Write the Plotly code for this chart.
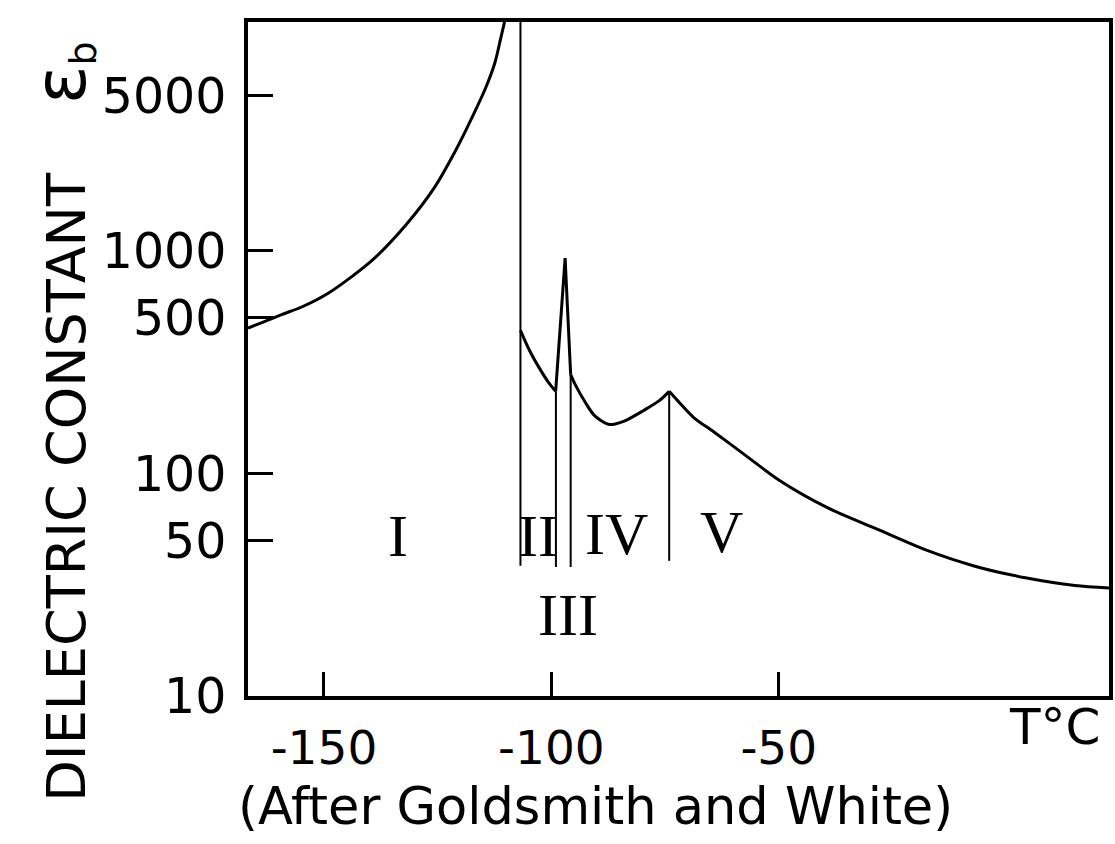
import math
import plotly.graph_objects as go

# ---------------- data ----------------
# Phase I branch (rises to an off-scale peak at the I/II transition)
phaseI_T = [-166.7, -159.3, -154.9, -148.9, -139.3, -131.9, -125.8, -121.2,
            -117.3, -114.3, -112.4, -111.2, -110.3]
phaseI_eps = [450, 518, 560, 649, 912, 1315, 1915, 2791,
              4036, 5500, 7030, 8910, 10700]

# Phase II branch
phaseII_T = [-106.8, -104.8, -102.7, -100.6, -99.06]
phaseII_eps = [440, 357, 299, 256, 234]

# Narrow spike at the II/III transition
spike_T = [-99.06, -96.98, -95.76]
spike_eps = [234, 929, 278]

# Phase IV branch
phaseIV_T = [-95.76, -94.73, -92.62, -90.5, -87.27, -83.97, -79.53, -76.2, -74.1]
phaseIV_eps = [278, 250, 210, 182, 166, 172, 193, 213, 234]

# Phase V branch
phaseV_T = [-74.1, -72.2, -68.64, -64.33, -57.17, -50.0, -39.2, -28.37,
            -17.54, -6.7, 4.2, 15.1, 22.6]
phaseV_eps = [234, 212, 178, 154, 120, 93.5, 70.0, 56.2,
              45.2, 38.2, 34.0, 31.4, 30.6]

# Phase boundaries (vertical lines)
boundary_T = [-106.8, -99.0, -95.76, -74.1]
boundary_top = [10700, 234, 278, 234]
boundary_bottom = [38.5, 38.0, 38.0, 40.5]

# Phase labels
phase_labels = ["I", "II", "III", "IV", "V"]
phase_label_T = [-133.8, -103.0, -96.3, -85.65, -62.7]
phase_label_eps = [52.5, 52.5, 23.1, 53.2, 54.6]

# Axes
x_tickvals = [-150, -100, -50]
x_ticktext = ["-150", "-100", "-50"]
y_tickvals = [10, 50, 100, 500, 1000, 5000]
y_ticktext = ["10", "50", "100", "500", "1000", "5000"]
x_range = [-166.7, 22.6]
y_range_eps = [10, 10690]

# ---------------- figure ----------------
W, H = 1115, 844
ML, MR, MT, MB = 248, 2, 22, 148
PW, PH = W - ML - MR, H - MT - MB

def px_to_paper(px, py):
    return (px - ML) / PW, (H - MB - py) / PH

fig = go.Figure()

def add_curve(xs, ys, shape):
    fig.add_trace(go.Scatter(x=xs, y=ys, mode="lines",
                             line=dict(color="black", width=3, shape=shape,
                                       smoothing=0.8 if shape == "spline" else None),
                             hoverinfo="skip", showlegend=False))

add_curve(phaseI_T, phaseI_eps, "spline")
add_curve(phaseII_T, phaseII_eps, "spline")
add_curve(spike_T, spike_eps, "linear")
add_curve(phaseIV_T, phaseIV_eps, "spline")
add_curve(phaseV_T, phaseV_eps, "spline")

bx, by = [], []
for t, top, bot in zip(boundary_T, boundary_top, boundary_bottom):
    bx += [t, t, None]
    by += [top, bot, None]
fig.add_trace(go.Scatter(x=bx, y=by, mode="lines",
                         line=dict(color="black", width=2), hoverinfo="skip",
                         showlegend=False))

ann = []
for lab, t, e in zip(phase_labels, phase_label_T, phase_label_eps):
    ann.append(dict(x=t, y=math.log10(e), xref="x", yref="y", text=lab,
                    showarrow=False, xanchor="center", yanchor="middle",
                    font=dict(family="Liberation Serif", size=60, color="black")))

tx, ty = px_to_paper(1058, 727)
ann.append(dict(x=tx, y=ty, xref="paper", yref="paper", text="T°C",
                showarrow=False, xanchor="center", yanchor="middle",
                font=dict(family="DejaVu Sans", size=50, color="black")))

cx, cy = px_to_paper(597, 806)
ann.append(dict(x=cx, y=cy, xref="paper", yref="paper",
                text="(After Goldsmith and White)",
                showarrow=False, xanchor="center", yanchor="middle",
                font=dict(family="DejaVu Sans", size=51, color="black")))

yx, yy = px_to_paper(60, 422)
ann.append(dict(x=yx, y=yy, xref="paper", yref="paper",
                text="DIELECTRIC CONSTANT&nbsp;&nbsp;&nbsp;&nbsp;"
                     "<span style='font-size:72px'>ε</span><sub>b</sub>",
                textangle=-90, showarrow=False, xanchor="center", yanchor="middle",
                font=dict(family="DejaVu Sans", size=54, color="black")))

fig.update_layout(
    width=W, height=H,
    margin=dict(l=ML, r=MR, t=MT, b=MB, pad=0),
    paper_bgcolor="white", plot_bgcolor="white",
    annotations=ann,
    showlegend=False,
)
fig.update_xaxes(range=x_range, tickvals=x_tickvals, ticktext=x_ticktext,
                 showgrid=False, zeroline=False, showline=True, mirror=True,
                 linecolor="black", linewidth=3.5,
                 ticks="inside", ticklen=24, tickwidth=2.5, tickcolor="black",
                 ticklabelstandoff=8,
                 tickfont=dict(family="DejaVu Sans", size=47, color="black"))
fig.update_yaxes(type="log",
                 range=[math.log10(y_range_eps[0]), math.log10(y_range_eps[1])],
                 tickvals=y_tickvals, ticktext=y_ticktext,
                 showgrid=False, zeroline=False, showline=True, mirror=True,
                 linecolor="black", linewidth=3.5,
                 ticks="inside", ticklen=25, tickwidth=2.5, tickcolor="black",
                 ticklabelstandoff=8,
                 tickfont=dict(family="DejaVu Sans", size=49, color="black"))

fig.write_html("out.html")
